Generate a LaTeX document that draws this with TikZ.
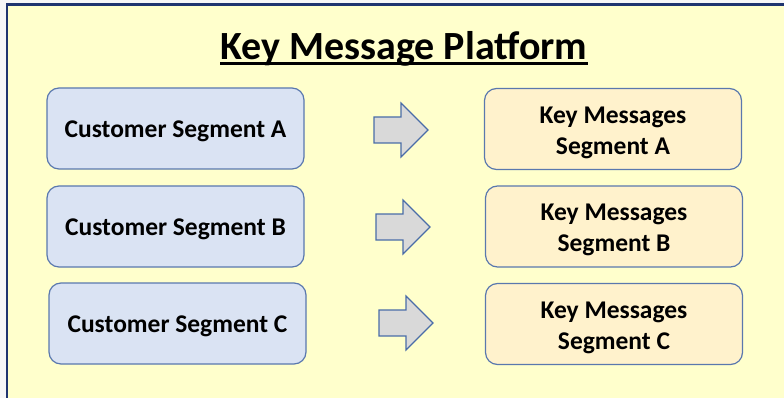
\documentclass[tikz,border=0pt]{standalone}
\usepackage{fontspec}
\setmainfont{Carlito}
\usetikzlibrary{calc}
\definecolor{pagebg}{HTML}{F6F6F8}
\definecolor{slidebg}{HTML}{FFFFCC}
\definecolor{framecol}{HTML}{1F3470}
\definecolor{segfill}{HTML}{DAE3F3}
\definecolor{msgfill}{HTML}{FFF2CC}
\definecolor{boxline}{HTML}{5A78AE}
\definecolor{arrowfill}{HTML}{D9D9D9}
\definecolor{arrowline}{HTML}{4A6DA8}
\tikzset{
  box/.style={draw=boxline, line width=1.2pt, rounded corners=12pt,
    minimum width=257pt, minimum height=81pt, inner sep=0pt},
  segbox/.style={box, fill=segfill},
  msgbox/.style={box, fill=msgfill},
  boxtext/.style={inner sep=0pt, align=center, font=\fontsize{25.5}{31}\selectfont\bfseries},
  blockarrow/.style={draw=arrowline, fill=arrowfill, line width=1.2pt, line join=miter},
}
\begin{document}
\begin{tikzpicture}[x=1pt, y=-1pt]
  % page and slide background
  \fill[pagebg] (0,0) rectangle (784,398);
  \useasboundingbox (0,0) rectangle (784,398);
  \draw[framecol, line width=2.2pt, fill=slidebg] (7,4.5) rectangle (800,420);

  % title with a heavy underline
  \node[font=\fontsize{40}{46}\selectfont\bfseries, inner sep=0pt] (title) at (404,49)
    {Key Message Platform};
  \draw[line width=2.8pt] ($(title.south west)+(0,-3)$) -- ($(title.south east)+(0,-3)$);

  % customer segments
  \node[segbox] (segA) at (175.5,128.5) {};
  \node[segbox] (segB) at (175.5,226.5) {};
  \node[segbox] (segC) at (177.5,323.5) {};
  \node[boxtext] (segAtext) at ($(segA)+(0,2.5)$) {Customer Segment A};
  \node[boxtext] (segBtext) at ($(segB)+(0,2.5)$) {Customer Segment B};
  \node[boxtext] (segCtext) at ($(segC)+(0,2.5)$) {Customer Segment C};

  % key messages
  \node[msgbox] (msgA) at (613,129) {};
  \node[msgbox] (msgB) at (614,226.5) {};
  \node[msgbox] (msgC) at (614,324) {};
  \node[boxtext] (msgAtext) at ($(msgA)+(0,3.5)$) {Key Messages\\Segment A};
  \node[boxtext] (msgBtext) at ($(msgB)+(0,3.5)$) {Key Messages\\Segment B};
  \node[boxtext] (msgCtext) at ($(msgC)+(0,3.5)$) {Key Messages\\Segment C};

  % block arrows between the columns
  \coordinate (arrA) at (374,130);
  \coordinate (arrB) at (376,227);
  \coordinate (arrC) at (379,323);
  \foreach \a in {arrA,arrB,arrC}{
    \draw[blockarrow] ($(\a)+(0,-13)$) -- ++(27,0) -- ++(0,-14) -- ++(27,27)
      -- ++(-27,27) -- ++(0,-14) -- ++(-27,0) -- cycle;
  }
\end{tikzpicture}
\end{document}
